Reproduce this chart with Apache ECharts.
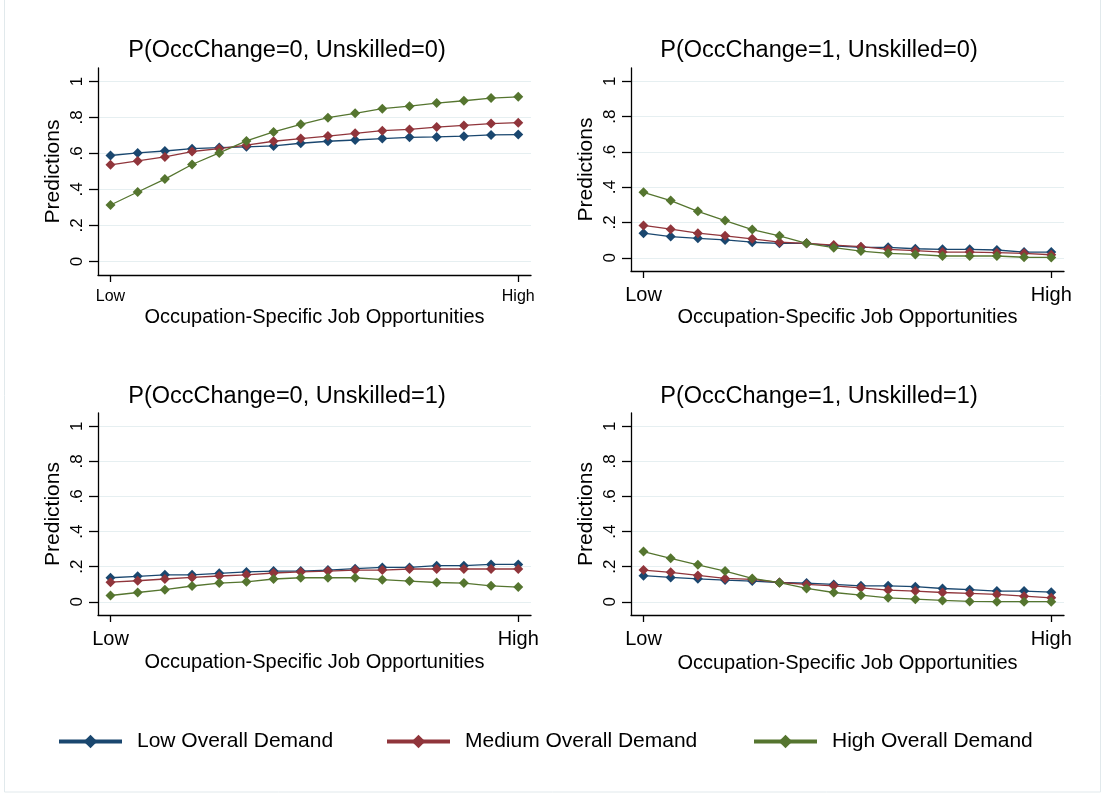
<!DOCTYPE html>
<html lang="en">
<head>
    <meta charset="utf-8">
    <title>Predictions by job opportunities</title>
    <script src="https://cdn.jsdelivr.net/npm/echarts@6.0.0/dist/echarts.min.js"></script>
    <style>
        body { margin: 0; background: #fff; }
        #main { width: 1103px; height: 795px; }
    </style>
</head>
<body>
<div id="main"></div>
<script type="text/javascript">
    // series names and panel titles
    var demandLevels = ['Low Overall Demand', 'Medium Overall Demand', 'High Overall Demand'];
    var panelTitles = ['P(OccChange=0, Unskilled=0)', 'P(OccChange=1, Unskilled=0)',
        'P(OccChange=0, Unskilled=1)', 'P(OccChange=1, Unskilled=1)'];
    var xTickValues = [0, 15];
    var xTickLabels = ['Low', 'High'];
    var yTickValues = [0, 0.2, 0.4, 0.6, 0.8, 1];
    var yTickLabels = ['0', '.2', '.4', '.6', '.8', '1'];

    // top left: OccChange=0, Unskilled=0
    var tlLow = [0.589, 0.603, 0.614, 0.627, 0.633, 0.637, 0.642, 0.657, 0.668, 0.675, 0.683, 0.690, 0.692, 0.696, 0.703, 0.705];
    var tlMed = [0.537, 0.559, 0.581, 0.611, 0.627, 0.646, 0.668, 0.683, 0.697, 0.712, 0.727, 0.734, 0.747, 0.756, 0.766, 0.771];
    var tlHigh = [0.314, 0.386, 0.458, 0.539, 0.603, 0.670, 0.720, 0.762, 0.799, 0.823, 0.849, 0.863, 0.880, 0.893, 0.908, 0.915];
    // top right: OccChange=1, Unskilled=0
    var trLow = [0.139, 0.120, 0.110, 0.101, 0.088, 0.082, 0.082, 0.067, 0.059, 0.059, 0.051, 0.048, 0.048, 0.044, 0.032, 0.032];
    var trMed = [0.183, 0.162, 0.139, 0.124, 0.107, 0.088, 0.082, 0.072, 0.063, 0.048, 0.040, 0.032, 0.032, 0.029, 0.025, 0.017];
    var trHigh = [0.371, 0.324, 0.263, 0.211, 0.160, 0.124, 0.082, 0.057, 0.038, 0.025, 0.019, 0.010, 0.010, 0.010, 0.003, 0.002];
    // bottom left: OccChange=0, Unskilled=1
    var blLow = [0.137, 0.145, 0.154, 0.154, 0.162, 0.170, 0.175, 0.175, 0.181, 0.189, 0.196, 0.196, 0.206, 0.206, 0.213, 0.213];
    var blMed = [0.112, 0.120, 0.130, 0.139, 0.147, 0.154, 0.164, 0.170, 0.175, 0.181, 0.181, 0.187, 0.187, 0.187, 0.187, 0.187];
    var blHigh = [0.036, 0.053, 0.069, 0.090, 0.107, 0.114, 0.130, 0.137, 0.137, 0.137, 0.126, 0.118, 0.110, 0.107, 0.091, 0.084];
    // bottom right: OccChange=1, Unskilled=1
    var brLow = [0.149, 0.139, 0.131, 0.124, 0.118, 0.110, 0.107, 0.099, 0.091, 0.091, 0.086, 0.076, 0.069, 0.061, 0.061, 0.055];
    var brMed = [0.181, 0.168, 0.150, 0.133, 0.128, 0.110, 0.099, 0.091, 0.080, 0.067, 0.061, 0.053, 0.048, 0.042, 0.032, 0.023];
    var brHigh = [0.286, 0.248, 0.211, 0.175, 0.133, 0.109, 0.076, 0.053, 0.038, 0.023, 0.015, 0.008, 0.002, 0.001, 0.001, 0.001];

    var panelData = [
        [tlLow, tlMed, tlHigh],
        [trLow, trMed, trHigh],
        [blLow, blMed, blHigh],
        [brLow, brMed, brHigh]
    ];

    var colors = ['#1a476f', '#90353b', '#55752f'];
    var font = '"Liberation Sans", Arial, sans-serif';

    // plot areas (left, top, width, height) and text placement, per panel
    var grids = [
        {left: 98, top: 68, width: 433, height: 207},
        {left: 631, top: 68, width: 433, height: 203},
        {left: 98, top: 413, width: 433, height: 202},
        {left: 631, top: 413, width: 433, height: 202}
    ];
    var titlePos = [[287, 39], [819, 39], [287, 385], [819, 385]];
    var lowHighSize = [16, 20, 20, 20];
    var xNameGap = [32, 36, 37, 38];

    function toPoints(values) {
        var pts = [];
        for (var i = 0; i < values.length; i++) {
            pts.push([i, values[i]]);
        }
        return pts;
    }

    var chart = echarts.init(document.getElementById('main'));

    var titles = [], xAxes = [], yAxes = [], series = [];
    for (var p = 0; p < 4; p++) {
        titles.push({
            text: panelTitles[p],
            left: titlePos[p][0],
            top: titlePos[p][1],
            textAlign: 'center',
            padding: 0,
            textStyle: {fontFamily: font, fontSize: 23.5, fontWeight: 'normal', color: '#000'}
        });
        xAxes.push({
            type: 'value',
            gridIndex: p,
            min: -0.46,
            max: 15.47,
            name: 'Occupation-Specific Job Opportunities',
            nameLocation: 'middle',
            nameGap: xNameGap[p],
            nameTextStyle: {fontFamily: font, fontSize: 20, color: '#000'},
            axisLine: {onZero: false, lineStyle: {color: '#000', width: 1.3}},
            axisTick: {customValues: xTickValues, length: 7, lineStyle: {color: '#000', width: 1.3}},
            axisLabel: {
                customValues: xTickValues,
                margin: 14,
                fontFamily: font,
                fontSize: lowHighSize[p],
                color: '#000',
                formatter: function (v) {
                    return v < 7 ? xTickLabels[0] : xTickLabels[1];
                }
            },
            splitLine: {show: false}
        });
        yAxes.push({
            type: 'value',
            gridIndex: p,
            min: -0.075,
            max: 1.075,
            name: 'Predictions',
            nameLocation: 'middle',
            nameRotate: 90,
            nameGap: 34,
            nameTextStyle: {fontFamily: font, fontSize: 21, color: '#000'},
            axisLine: {show: true, onZero: false, lineStyle: {color: '#000', width: 1.3}},
            axisTick: {show: true, customValues: yTickValues, length: 9, lineStyle: {color: '#000', width: 1.3}},
            axisLabel: {
                customValues: yTickValues,
                rotate: 90,
                margin: 12,
                fontFamily: font,
                fontSize: 17,
                color: '#000',
                formatter: function (v) {
                    return yTickLabels[Math.round(v * 5)];
                }
            },
            splitLine: {show: true, lineStyle: {color: '#e6eff1', width: 1}}
        });
        for (var s = 0; s < 3; s++) {
            series.push({
                name: demandLevels[s],
                type: 'line',
                xAxisIndex: p,
                yAxisIndex: p,
                data: toPoints(panelData[p][s]),
                symbol: 'diamond',
                symbolSize: 10,
                lineStyle: {color: colors[s], width: 1.3},
                itemStyle: {color: colors[s]},
                animation: false
            });
        }
    }

    var legendLeft = [57, 385, 752];
    var legends = [];
    for (var k = 0; k < 3; k++) {
        legends.push({
            data: [demandLevels[k]],
            left: legendLeft[k],
            top: 731,
            padding: 0,
            itemWidth: 63,
            itemHeight: 17,
            itemGap: 0,
            selectedMode: false,
            lineStyle: {width: 4},
            textStyle: {fontFamily: font, fontSize: 21, color: '#000', padding: [0, 0, 0, 10]}
        });
    }

    chart.setOption({
        backgroundColor: '#fff',
        animation: false,
        color: colors,
        title: titles,
        legend: legends,
        grid: grids,
        xAxis: xAxes,
        yAxis: yAxes,
        series: series,
        graphic: [{
            type: 'rect',
            shape: {x: 4.5, y: -1, width: 1096, height: 793},
            style: {fill: 'none', stroke: '#e1e9ec', lineWidth: 1},
            silent: true
        }]
    });
</script>
</body>
</html>
